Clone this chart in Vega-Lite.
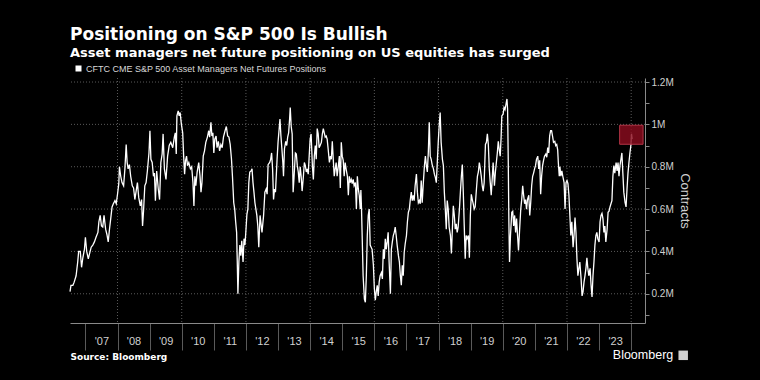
{
"$schema": "https://vega.github.io/schema/vega-lite/v6.json",
"width": 575, "height": 245,
"autosize": {"type": "none"},
"padding": {"left": 70, "top": 78, "right": 115, "bottom": 57},
"background": "#000000",
"title": {"text": "Positioning on S&P 500 Is Bullish", "subtitle": "Asset managers net future positioning on US equities has surged", "anchor": "start", "frame": "group", "font": "DejaVu Sans", "fontSize": 17, "fontWeight": "bold", "color": "#ffffff", "subtitleFont": "DejaVu Sans", "subtitleFontSize": 13, "subtitleFontWeight": "bold", "subtitleColor": "#ffffff", "subtitlePadding": 3, "offset": 3},
"config": {"view": {"stroke": null}},
"layer": [
{"data": {"values": [{"year": 2008},{"year": 2010},{"year": 2012},{"year": 2014},{"year": 2016},{"year": 2018},{"year": 2020},{"year": 2022},{"year": 2024}]},
 "mark": {"type": "rule", "color": "#5a5a5a", "strokeDash": [1, 2], "strokeWidth": 1},
 "encoding": {"x": {"field": "year", "type": "quantitative"}}},
{"data": {"values": [{"level": 200000},{"level": 400000},{"level": 600000},{"level": 800000},{"level": 1000000},{"level": 1200000}]},
 "mark": {"type": "rule", "color": "#5a5a5a", "strokeDash": [1, 2], "strokeWidth": 1},
 "encoding": {"y": {"field": "level", "type": "quantitative"}}},
{"data": {"values": [
{"year":2006.52,"contracts":210000},{"year":2006.55,"contracts":240000},{"year":2006.61,"contracts":240000},{"year":2006.65,"contracts":255000},{"year":2006.71,"contracts":285000},{"year":2006.76,"contracts":350000},{"year":2006.79,"contracts":400000},{"year":2006.84,"contracts":400000},{"year":2006.88,"contracts":325000},{"year":2006.92,"contracts":370000},{"year":2006.97,"contracts":410000},{"year":2007.00,"contracts":467000},{"year":2007.04,"contracts":400000},{"year":2007.09,"contracts":365000},{"year":2007.13,"contracts":390000},{"year":2007.18,"contracts":420000},{"year":2007.23,"contracts":430000},{"year":2007.28,"contracts":445000},{"year":2007.33,"contracts":467000},{"year":2007.39,"contracts":490000},{"year":2007.42,"contracts":540000},{"year":2007.46,"contracts":570000},{"year":2007.50,"contracts":520000},{"year":2007.54,"contracts":515000},{"year":2007.58,"contracts":570000},{"year":2007.63,"contracts":505000},{"year":2007.67,"contracts":480000},{"year":2007.71,"contracts":445000},{"year":2007.75,"contracts":505000},{"year":2007.80,"contracts":570000},{"year":2007.83,"contracts":610000},{"year":2007.87,"contracts":625000},{"year":2007.92,"contracts":640000},{"year":2007.96,"contracts":625000},{"year":2008.00,"contracts":670000},{"year":2008.04,"contracts":720000},{"year":2008.06,"contracts":800000},{"year":2008.10,"contracts":755000},{"year":2008.14,"contracts":725000},{"year":2008.19,"contracts":710000},{"year":2008.23,"contracts":790000},{"year":2008.27,"contracts":905000},{"year":2008.30,"contracts":820000},{"year":2008.33,"contracts":790000},{"year":2008.37,"contracts":810000},{"year":2008.41,"contracts":755000},{"year":2008.46,"contracts":710000},{"year":2008.50,"contracts":700000},{"year":2008.54,"contracts":645000},{"year":2008.58,"contracts":685000},{"year":2008.62,"contracts":725000},{"year":2008.66,"contracts":655000},{"year":2008.71,"contracts":615000},{"year":2008.75,"contracts":645000},{"year":2008.78,"contracts":520000},{"year":2008.81,"contracts":590000},{"year":2008.85,"contracts":710000},{"year":2008.89,"contracts":725000},{"year":2008.93,"contracts":780000},{"year":2008.98,"contracts":865000},{"year":2009.01,"contracts":970000},{"year":2009.04,"contracts":835000},{"year":2009.08,"contracts":820000},{"year":2009.12,"contracts":755000},{"year":2009.15,"contracts":770000},{"year":2009.18,"contracts":640000},{"year":2009.22,"contracts":780000},{"year":2009.27,"contracts":695000},{"year":2009.31,"contracts":645000},{"year":2009.35,"contracts":820000},{"year":2009.39,"contracts":860000},{"year":2009.42,"contracts":955000},{"year":2009.46,"contracts":790000},
{"year":2009.51,"contracts":740000},{"year":2009.56,"contracts":850000},{"year":2009.61,"contracts":900000},{"year":2009.66,"contracts":915000},{"year":2009.72,"contracts":890000},{"year":2009.77,"contracts":940000},{"year":2009.80,"contracts":960000},{"year":2009.83,"contracts":860000},{"year":2009.85,"contracts":1040000},{"year":2009.89,"contracts":1064000},{"year":2009.92,"contracts":1040000},{"year":2009.95,"contracts":1056000},{"year":2009.99,"contracts":1000000},{"year":2010.03,"contracts":960000},{"year":2010.06,"contracts":850000},{"year":2010.09,"contracts":765000},{"year":2010.12,"contracts":830000},{"year":2010.15,"contracts":850000},{"year":2010.18,"contracts":805000},{"year":2010.22,"contracts":820000},{"year":2010.27,"contracts":790000},{"year":2010.31,"contracts":800000},{"year":2010.35,"contracts":725000},{"year":2010.38,"contracts":615000},{"year":2010.41,"contracts":755000},{"year":2010.44,"contracts":710000},{"year":2010.48,"contracts":775000},{"year":2010.53,"contracts":820000},{"year":2010.57,"contracts":755000},{"year":2010.60,"contracts":680000},{"year":2010.63,"contracts":725000},{"year":2010.67,"contracts":850000},{"year":2010.71,"contracts":875000},{"year":2010.75,"contracts":915000},{"year":2010.80,"contracts":940000},{"year":2010.84,"contracts":970000},{"year":2010.87,"contracts":940000},{"year":2010.91,"contracts":1010000},{"year":2010.94,"contracts":945000},{"year":2010.97,"contracts":960000},{"year":2011.00,"contracts":865000},{"year":2011.03,"contracts":930000},{"year":2011.07,"contracts":945000},{"year":2011.10,"contracts":890000},{"year":2011.14,"contracts":920000},{"year":2011.18,"contracts":875000},{"year":2011.22,"contracts":905000},{"year":2011.26,"contracts":890000},{"year":2011.30,"contracts":940000},{"year":2011.35,"contracts":970000},{"year":2011.39,"contracts":990000},{"year":2011.43,"contracts":945000},{"year":2011.47,"contracts":940000},{"year":2011.51,"contracts":905000},{"year":2011.55,"contracts":835000},{"year":2011.58,"contracts":755000},{"year":2011.62,"contracts":630000},{"year":2011.65,"contracts":600000},{"year":2011.68,"contracts":540000},{"year":2011.71,"contracts":490000},{"year":2011.73,"contracts":350000},{"year":2011.75,"contracts":200000},{"year":2011.78,"contracts":350000},{"year":2011.81,"contracts":430000},{"year":2011.84,"contracts":380000},{"year":2011.87,"contracts":450000},{"year":2011.91,"contracts":350000},{"year":2011.94,"contracts":460000},{"year":2011.97,"contracts":430000},{"year":2012.00,"contracts":500000},{"year":2012.03,"contracts":575000},{"year":2012.06,"contracts":600000},{"year":2012.09,"contracts":725000},{"year":2012.12,"contracts":775000},{"year":2012.16,"contracts":780000},{"year":2012.19,"contracts":790000},{"year":2012.22,"contracts":725000},{"year":2012.25,"contracts":680000},{"year":2012.28,"contracts":630000},{"year":2012.31,"contracts":600000},{"year":2012.34,"contracts":570000},{"year":2012.37,"contracts":520000},{"year":2012.40,"contracts":420000},{"year":2012.44,"contracts":570000},{"year":2012.47,"contracts":530000},{"year":2012.50,"contracts":490000},
{"year":2012.55,"contracts":570000},{"year":2012.59,"contracts":680000},{"year":2012.63,"contracts":695000},{"year":2012.66,"contracts":670000},{"year":2012.69,"contracts":810000},{"year":2012.74,"contracts":820000},{"year":2012.77,"contracts":835000},{"year":2012.80,"contracts":865000},{"year":2012.83,"contracts":790000},{"year":2012.86,"contracts":645000},{"year":2012.89,"contracts":695000},{"year":2012.92,"contracts":680000},{"year":2012.97,"contracts":835000},{"year":2013.00,"contracts":915000},{"year":2013.03,"contracts":970000},{"year":2013.06,"contracts":1025000},{"year":2013.09,"contracts":945000},{"year":2013.12,"contracts":885000},{"year":2013.15,"contracts":820000},{"year":2013.17,"contracts":755000},{"year":2013.20,"contracts":885000},{"year":2013.24,"contracts":920000},{"year":2013.27,"contracts":900000},{"year":2013.30,"contracts":940000},{"year":2013.33,"contracts":960000},{"year":2013.36,"contracts":1025000},{"year":2013.38,"contracts":1080000},{"year":2013.41,"contracts":990000},{"year":2013.44,"contracts":955000},{"year":2013.47,"contracts":680000},{"year":2013.50,"contracts":755000},{"year":2013.54,"contracts":865000},{"year":2013.57,"contracts":860000},{"year":2013.60,"contracts":805000},{"year":2013.63,"contracts":775000},{"year":2013.66,"contracts":725000},{"year":2013.69,"contracts":800000},{"year":2013.72,"contracts":755000},{"year":2013.75,"contracts":685000},{"year":2013.79,"contracts":755000},{"year":2013.82,"contracts":820000},{"year":2013.85,"contracts":805000},{"year":2013.88,"contracts":775000},{"year":2013.91,"contracts":790000},{"year":2013.94,"contracts":765000},{"year":2013.97,"contracts":850000},{"year":2014.00,"contracts":930000},{"year":2014.03,"contracts":955000},{"year":2014.07,"contracts":805000},{"year":2014.10,"contracts":740000},{"year":2014.13,"contracts":850000},{"year":2014.16,"contracts":900000},{"year":2014.19,"contracts":835000},{"year":2014.22,"contracts":980000},{"year":2014.25,"contracts":955000},{"year":2014.28,"contracts":890000},{"year":2014.31,"contracts":900000},{"year":2014.35,"contracts":915000},{"year":2014.38,"contracts":955000},{"year":2014.41,"contracts":980000},{"year":2014.44,"contracts":960000},{"year":2014.47,"contracts":940000},{"year":2014.50,"contracts":945000},{"year":2014.53,"contracts":930000},{"year":2014.56,"contracts":885000},{"year":2014.60,"contracts":820000},{"year":2014.63,"contracts":850000},{"year":2014.66,"contracts":835000},{"year":2014.69,"contracts":920000},{"year":2014.72,"contracts":835000},{"year":2014.75,"contracts":755000},{"year":2014.78,"contracts":790000},{"year":2014.81,"contracts":820000},{"year":2014.84,"contracts":755000},{"year":2014.88,"contracts":805000},{"year":2014.91,"contracts":850000},{"year":2014.94,"contracts":700000},{"year":2014.97,"contracts":915000},{"year":2015.00,"contracts":850000},{"year":2015.03,"contracts":830000},{"year":2015.06,"contracts":755000},{"year":2015.09,"contracts":820000},{"year":2015.12,"contracts":790000},{"year":2015.16,"contracts":755000},{"year":2015.19,"contracts":665000},{"year":2015.22,"contracts":755000},{"year":2015.25,"contracts":725000},{"year":2015.28,"contracts":740000},{"year":2015.31,"contracts":720000},{"year":2015.34,"contracts":740000},{"year":2015.37,"contracts":710000},{"year":2015.41,"contracts":725000},{"year":2015.44,"contracts":600000},{"year":2015.47,"contracts":755000},{"year":2015.50,"contracts":695000},{"year":2015.53,"contracts":665000},{"year":2015.56,"contracts":600000},{"year":2015.58,"contracts":690000},{"year":2015.60,"contracts":600000},
{"year":2015.62,"contracts":475000},{"year":2015.65,"contracts":285000},{"year":2015.69,"contracts":175000},{"year":2015.72,"contracts":160000},{"year":2015.75,"contracts":285000},{"year":2015.78,"contracts":475000},{"year":2015.81,"contracts":570000},{"year":2015.84,"contracts":600000},{"year":2015.87,"contracts":430000},{"year":2015.90,"contracts":420000},{"year":2015.93,"contracts":410000},{"year":2015.97,"contracts":335000},{"year":2016.00,"contracts":225000},{"year":2016.03,"contracts":170000},{"year":2016.06,"contracts":210000},{"year":2016.09,"contracts":240000},{"year":2016.12,"contracts":190000},{"year":2016.15,"contracts":255000},{"year":2016.18,"contracts":285000},{"year":2016.22,"contracts":300000},{"year":2016.25,"contracts":270000},{"year":2016.28,"contracts":410000},{"year":2016.31,"contracts":365000},{"year":2016.34,"contracts":460000},{"year":2016.37,"contracts":410000},{"year":2016.40,"contracts":445000},{"year":2016.43,"contracts":490000},{"year":2016.46,"contracts":350000},{"year":2016.50,"contracts":200000},{"year":2016.53,"contracts":410000},{"year":2016.56,"contracts":445000},{"year":2016.59,"contracts":475000},{"year":2016.62,"contracts":490000},{"year":2016.65,"contracts":515000},{"year":2016.68,"contracts":475000},{"year":2016.71,"contracts":430000},{"year":2016.75,"contracts":380000},{"year":2016.78,"contracts":350000},{"year":2016.81,"contracts":285000},{"year":2016.84,"contracts":240000},{"year":2016.87,"contracts":335000},{"year":2016.90,"contracts":285000},{"year":2016.93,"contracts":395000},{"year":2016.96,"contracts":435000},{"year":2017.00,"contracts":475000},{"year":2017.03,"contracts":540000},{"year":2017.06,"contracts":585000},{"year":2017.09,"contracts":600000},{"year":2017.12,"contracts":645000},{"year":2017.15,"contracts":680000},{"year":2017.18,"contracts":640000},{"year":2017.21,"contracts":665000},{"year":2017.24,"contracts":640000},{"year":2017.27,"contracts":710000},{"year":2017.31,"contracts":765000},{"year":2017.34,"contracts":680000},{"year":2017.37,"contracts":630000},{"year":2017.40,"contracts":640000},{"year":2017.43,"contracts":625000},{"year":2017.46,"contracts":735000},{"year":2017.49,"contracts":630000},{"year":2017.52,"contracts":710000},{"year":2017.56,"contracts":805000},{"year":2017.59,"contracts":850000},{"year":2017.62,"contracts":805000},{"year":2017.65,"contracts":775000},{"year":2017.68,"contracts":865000},{"year":2017.71,"contracts":1010000},{"year":2017.74,"contracts":850000},{"year":2017.77,"contracts":835000},{"year":2017.80,"contracts":810000},{"year":2017.84,"contracts":790000},{"year":2017.87,"contracts":765000},{"year":2017.90,"contracts":750000},{"year":2017.93,"contracts":725000},{"year":2017.96,"contracts":820000},{"year":2017.99,"contracts":915000},{"year":2018.02,"contracts":995000},{"year":2018.05,"contracts":1056000},{"year":2018.08,"contracts":915000},{"year":2018.12,"contracts":835000},{"year":2018.15,"contracts":805000},{"year":2018.18,"contracts":680000},{"year":2018.21,"contracts":600000},{"year":2018.24,"contracts":505000},{"year":2018.27,"contracts":640000},{"year":2018.30,"contracts":600000},{"year":2018.33,"contracts":515000},{"year":2018.37,"contracts":475000},{"year":2018.40,"contracts":390000},{"year":2018.43,"contracts":505000},{"year":2018.46,"contracts":615000},{"year":2018.49,"contracts":570000},{"year":2018.52,"contracts":505000},{"year":2018.55,"contracts":530000},{"year":2018.58,"contracts":490000},{"year":2018.61,"contracts":515000},{"year":2018.65,"contracts":600000},
{"year":2018.68,"contracts":680000},{"year":2018.71,"contracts":755000},{"year":2018.74,"contracts":810000},{"year":2018.77,"contracts":680000},{"year":2018.80,"contracts":520000},{"year":2018.83,"contracts":365000},{"year":2018.86,"contracts":475000},{"year":2018.89,"contracts":460000},{"year":2018.93,"contracts":475000},{"year":2018.96,"contracts":370000},{"year":2018.99,"contracts":570000},{"year":2019.02,"contracts":670000},{"year":2019.05,"contracts":645000},{"year":2019.08,"contracts":625000},{"year":2019.11,"contracts":600000},{"year":2019.14,"contracts":610000},{"year":2019.18,"contracts":695000},{"year":2019.21,"contracts":755000},{"year":2019.24,"contracts":775000},{"year":2019.27,"contracts":820000},{"year":2019.30,"contracts":790000},{"year":2019.33,"contracts":755000},{"year":2019.36,"contracts":710000},{"year":2019.39,"contracts":685000},{"year":2019.42,"contracts":725000},{"year":2019.46,"contracts":905000},{"year":2019.49,"contracts":915000},{"year":2019.52,"contracts":955000},{"year":2019.55,"contracts":905000},{"year":2019.58,"contracts":790000},{"year":2019.61,"contracts":725000},{"year":2019.64,"contracts":665000},{"year":2019.67,"contracts":740000},{"year":2019.70,"contracts":820000},{"year":2019.74,"contracts":710000},{"year":2019.77,"contracts":775000},{"year":2019.80,"contracts":820000},{"year":2019.83,"contracts":865000},{"year":2019.86,"contracts":920000},{"year":2019.89,"contracts":880000},{"year":2019.92,"contracts":850000},{"year":2019.95,"contracts":945000},{"year":2019.97,"contracts":1040000},{"year":2020.01,"contracts":1048000},{"year":2020.04,"contracts":1080000},{"year":2020.07,"contracts":1070000},{"year":2020.10,"contracts":1095000},{"year":2020.13,"contracts":1120000},{"year":2020.15,"contracts":1070000},{"year":2020.17,"contracts":835000},{"year":2020.19,"contracts":540000},{"year":2020.21,"contracts":350000},{"year":2020.24,"contracts":475000},{"year":2020.28,"contracts":585000},{"year":2020.31,"contracts":590000},{"year":2020.34,"contracts":520000},{"year":2020.37,"contracts":570000},{"year":2020.40,"contracts":490000},{"year":2020.43,"contracts":555000},{"year":2020.46,"contracts":475000},{"year":2020.49,"contracts":405000},{"year":2020.52,"contracts":490000},{"year":2020.56,"contracts":600000},{"year":2020.59,"contracts":645000},{"year":2020.62,"contracts":710000},{"year":2020.65,"contracts":665000},{"year":2020.68,"contracts":625000},{"year":2020.71,"contracts":645000},{"year":2020.74,"contracts":600000},{"year":2020.77,"contracts":645000},{"year":2020.81,"contracts":665000},{"year":2020.84,"contracts":570000},{"year":2020.87,"contracts":630000},{"year":2020.90,"contracts":710000},{"year":2020.93,"contracts":755000},{"year":2020.96,"contracts":770000},{"year":2020.99,"contracts":790000},{"year":2021.02,"contracts":805000},{"year":2021.05,"contracts":835000},{"year":2021.09,"contracts":850000},{"year":2021.12,"contracts":790000},{"year":2021.15,"contracts":830000},{"year":2021.18,"contracts":670000},{"year":2021.21,"contracts":755000},{"year":2021.24,"contracts":805000},{"year":2021.27,"contracts":830000},{"year":2021.30,"contracts":850000},{"year":2021.34,"contracts":860000},{"year":2021.37,"contracts":845000},{"year":2021.40,"contracts":890000},{"year":2021.43,"contracts":865000},{"year":2021.46,"contracts":945000},{"year":2021.49,"contracts":970000},{"year":2021.52,"contracts":970000},{"year":2021.55,"contracts":945000},{"year":2021.58,"contracts":915000},{"year":2021.62,"contracts":920000},{"year":2021.65,"contracts":900000},{"year":2021.68,"contracts":905000},{"year":2021.71,"contracts":880000},
{"year":2021.73,"contracts":820000},{"year":2021.76,"contracts":755000},{"year":2021.78,"contracts":800000},{"year":2021.81,"contracts":755000},{"year":2021.84,"contracts":780000},{"year":2021.87,"contracts":755000},{"year":2021.91,"contracts":725000},{"year":2021.94,"contracts":600000},{"year":2021.97,"contracts":725000},{"year":2022.00,"contracts":735000},{"year":2022.03,"contracts":720000},{"year":2022.06,"contracts":665000},{"year":2022.09,"contracts":570000},{"year":2022.12,"contracts":475000},{"year":2022.15,"contracts":540000},{"year":2022.19,"contracts":420000},{"year":2022.22,"contracts":475000},{"year":2022.25,"contracts":560000},{"year":2022.28,"contracts":490000},{"year":2022.31,"contracts":365000},{"year":2022.34,"contracts":285000},{"year":2022.37,"contracts":320000},{"year":2022.40,"contracts":350000},{"year":2022.44,"contracts":270000},{"year":2022.47,"contracts":190000},{"year":2022.50,"contracts":210000},{"year":2022.53,"contracts":255000},{"year":2022.56,"contracts":285000},{"year":2022.59,"contracts":320000},{"year":2022.62,"contracts":370000},{"year":2022.65,"contracts":320000},{"year":2022.68,"contracts":285000},{"year":2022.72,"contracts":320000},{"year":2022.75,"contracts":240000},{"year":2022.78,"contracts":185000},{"year":2022.81,"contracts":285000},{"year":2022.84,"contracts":350000},{"year":2022.87,"contracts":430000},{"year":2022.90,"contracts":475000},{"year":2022.93,"contracts":490000},{"year":2022.96,"contracts":460000},{"year":2023.00,"contracts":445000},{"year":2023.03,"contracts":540000},{"year":2023.06,"contracts":570000},{"year":2023.09,"contracts":580000},{"year":2023.12,"contracts":555000},{"year":2023.15,"contracts":490000},{"year":2023.18,"contracts":520000},{"year":2023.21,"contracts":445000},{"year":2023.25,"contracts":505000},{"year":2023.28,"contracts":585000},{"year":2023.31,"contracts":590000},{"year":2023.34,"contracts":610000},{"year":2023.37,"contracts":625000},{"year":2023.40,"contracts":640000},{"year":2023.43,"contracts":755000},{"year":2023.46,"contracts":805000},{"year":2023.49,"contracts":770000},{"year":2023.53,"contracts":820000},{"year":2023.56,"contracts":780000},{"year":2023.59,"contracts":820000},{"year":2023.62,"contracts":755000},{"year":2023.65,"contracts":805000},{"year":2023.68,"contracts":835000},{"year":2023.71,"contracts":865000},{"year":2023.74,"contracts":770000},{"year":2023.77,"contracts":680000},{"year":2023.81,"contracts":630000},{"year":2023.84,"contracts":610000},{"year":2023.87,"contracts":695000},{"year":2023.90,"contracts":770000},{"year":2023.93,"contracts":820000},{"year":2023.96,"contracts":865000},{"year":2023.99,"contracts":900000},{"year":2024.01,"contracts":955000},{"year":2024.03,"contracts":930000}
]},
"mark": {"type": "line", "strokeWidth": 1.3, "interpolate": "linear"},
"encoding": {
"x": {"field": "year", "type": "quantitative", "scale": {"domain": [2006.52, 2024.43], "nice": false, "zero": false},
 "axis": {"values": [2007,2008,2009,2010,2011,2012,2013,2014,2015,2016,2017,2018,2019,2020,2021,2022,2023,2024], "tickCount": 40,
  "title": "Source: Bloomberg", "titleAnchor": "start", "titleAlign": "left", "titleX": 0, "titleY": 29, "titleFont": "DejaVu Sans", "titleFontSize": 9, "titleFontWeight": "bold", "titleColor": "#ffffff",
  "labelExpr": "datum.value >= 2024 ? '' : \"'\" + substring(toString(datum.value), 2, 4)",
  "labelOffset": 16, "labelPadding": -15, "labelFont": "Liberation Sans", "labelFontSize": 11, "labelColor": "#d0d0d0", "labelFlush": false, "labelOverlap": false,
  "tickSize": 27, "tickColor": "#5a5a5a", "domainColor": "#8a8a8a", "grid": false}},
"y": {"field": "contracts", "type": "quantitative", "scale": {"domain": [62000, 1219000], "nice": false, "zero": false},
 "axis": {"orient": "right", "values": [100000,200000,300000,400000,500000,600000,700000,800000,900000,1000000,1100000,1200000], "tickCount": 40,
  "title": "Contracts", "titleColor": "#d0d0d0", "titleFont": "Liberation Sans", "titleFontSize": 13, "titleFontWeight": "normal", "titlePadding": 4,
  "labelExpr": "round(datum.value / 100000) % 2 == 0 ? format(datum.value / 1000000, '.1~f') + 'M' : ''",
  "labelFont": "Liberation Sans", "labelFontSize": 10, "labelColor": "#d0d0d0", "labelPadding": 2, "labelFlush": false, "labelOverlap": false,
  "tickSize": 4, "tickColor": "#8a8a8a", "domainColor": "#8a8a8a", "grid": false}},
"color": {"datum": "CFTC CME S&P 500 Asset Managers Net Futures Positions", "type": "nominal", "scale": {"range": ["#ffffff"]},
 "legend": {"orient": "none", "legendX": 4, "legendY": -14, "title": null, "symbolType": "square", "symbolSize": 36, "symbolStrokeWidth": 0, "labelColor": "#d8d8d8", "labelFont": "Liberation Sans", "labelFontSize": 9, "labelLimit": 400, "labelOffset": 3, "direction": "horizontal",
  "encode": {"symbols": {"update": {"fill": {"value": "#ffffff"}, "strokeWidth": {"value": 0}}}}}}
}},
{"data": {"values": [{"start": 2023.64, "end": 2024.37, "low": 906000, "high": 996000}]},
 "mark": {"type": "rect", "fill": "#8b0c1e", "fillOpacity": 0.82, "stroke": "#b13445", "strokeWidth": 1},
 "encoding": {"x": {"field": "start", "type": "quantitative"}, "x2": {"field": "end"}, "y": {"field": "low", "type": "quantitative"}, "y2": {"field": "high"}}},
{"data": {"values": [{"label": "Bloomberg"}]},
 "mark": {"type": "text", "font": "Liberation Sans", "fontSize": 12.5, "color": "#ffffff", "align": "right", "baseline": "middle"},
 "encoding": {"x": {"datum": 2025.31, "type": "quantitative"}, "y": {"datum": -90600, "type": "quantitative"}, "text": {"field": "label"}}},
{"data": {"values": [{"label": "logo"}]},
 "mark": {"type": "point", "shape": "square", "filled": true, "size": 90, "color": "#d0d0d0", "opacity": 1},
 "encoding": {"x": {"datum": 2025.62, "type": "quantitative"}, "y": {"datum": -90600, "type": "quantitative"}}}
]
}
